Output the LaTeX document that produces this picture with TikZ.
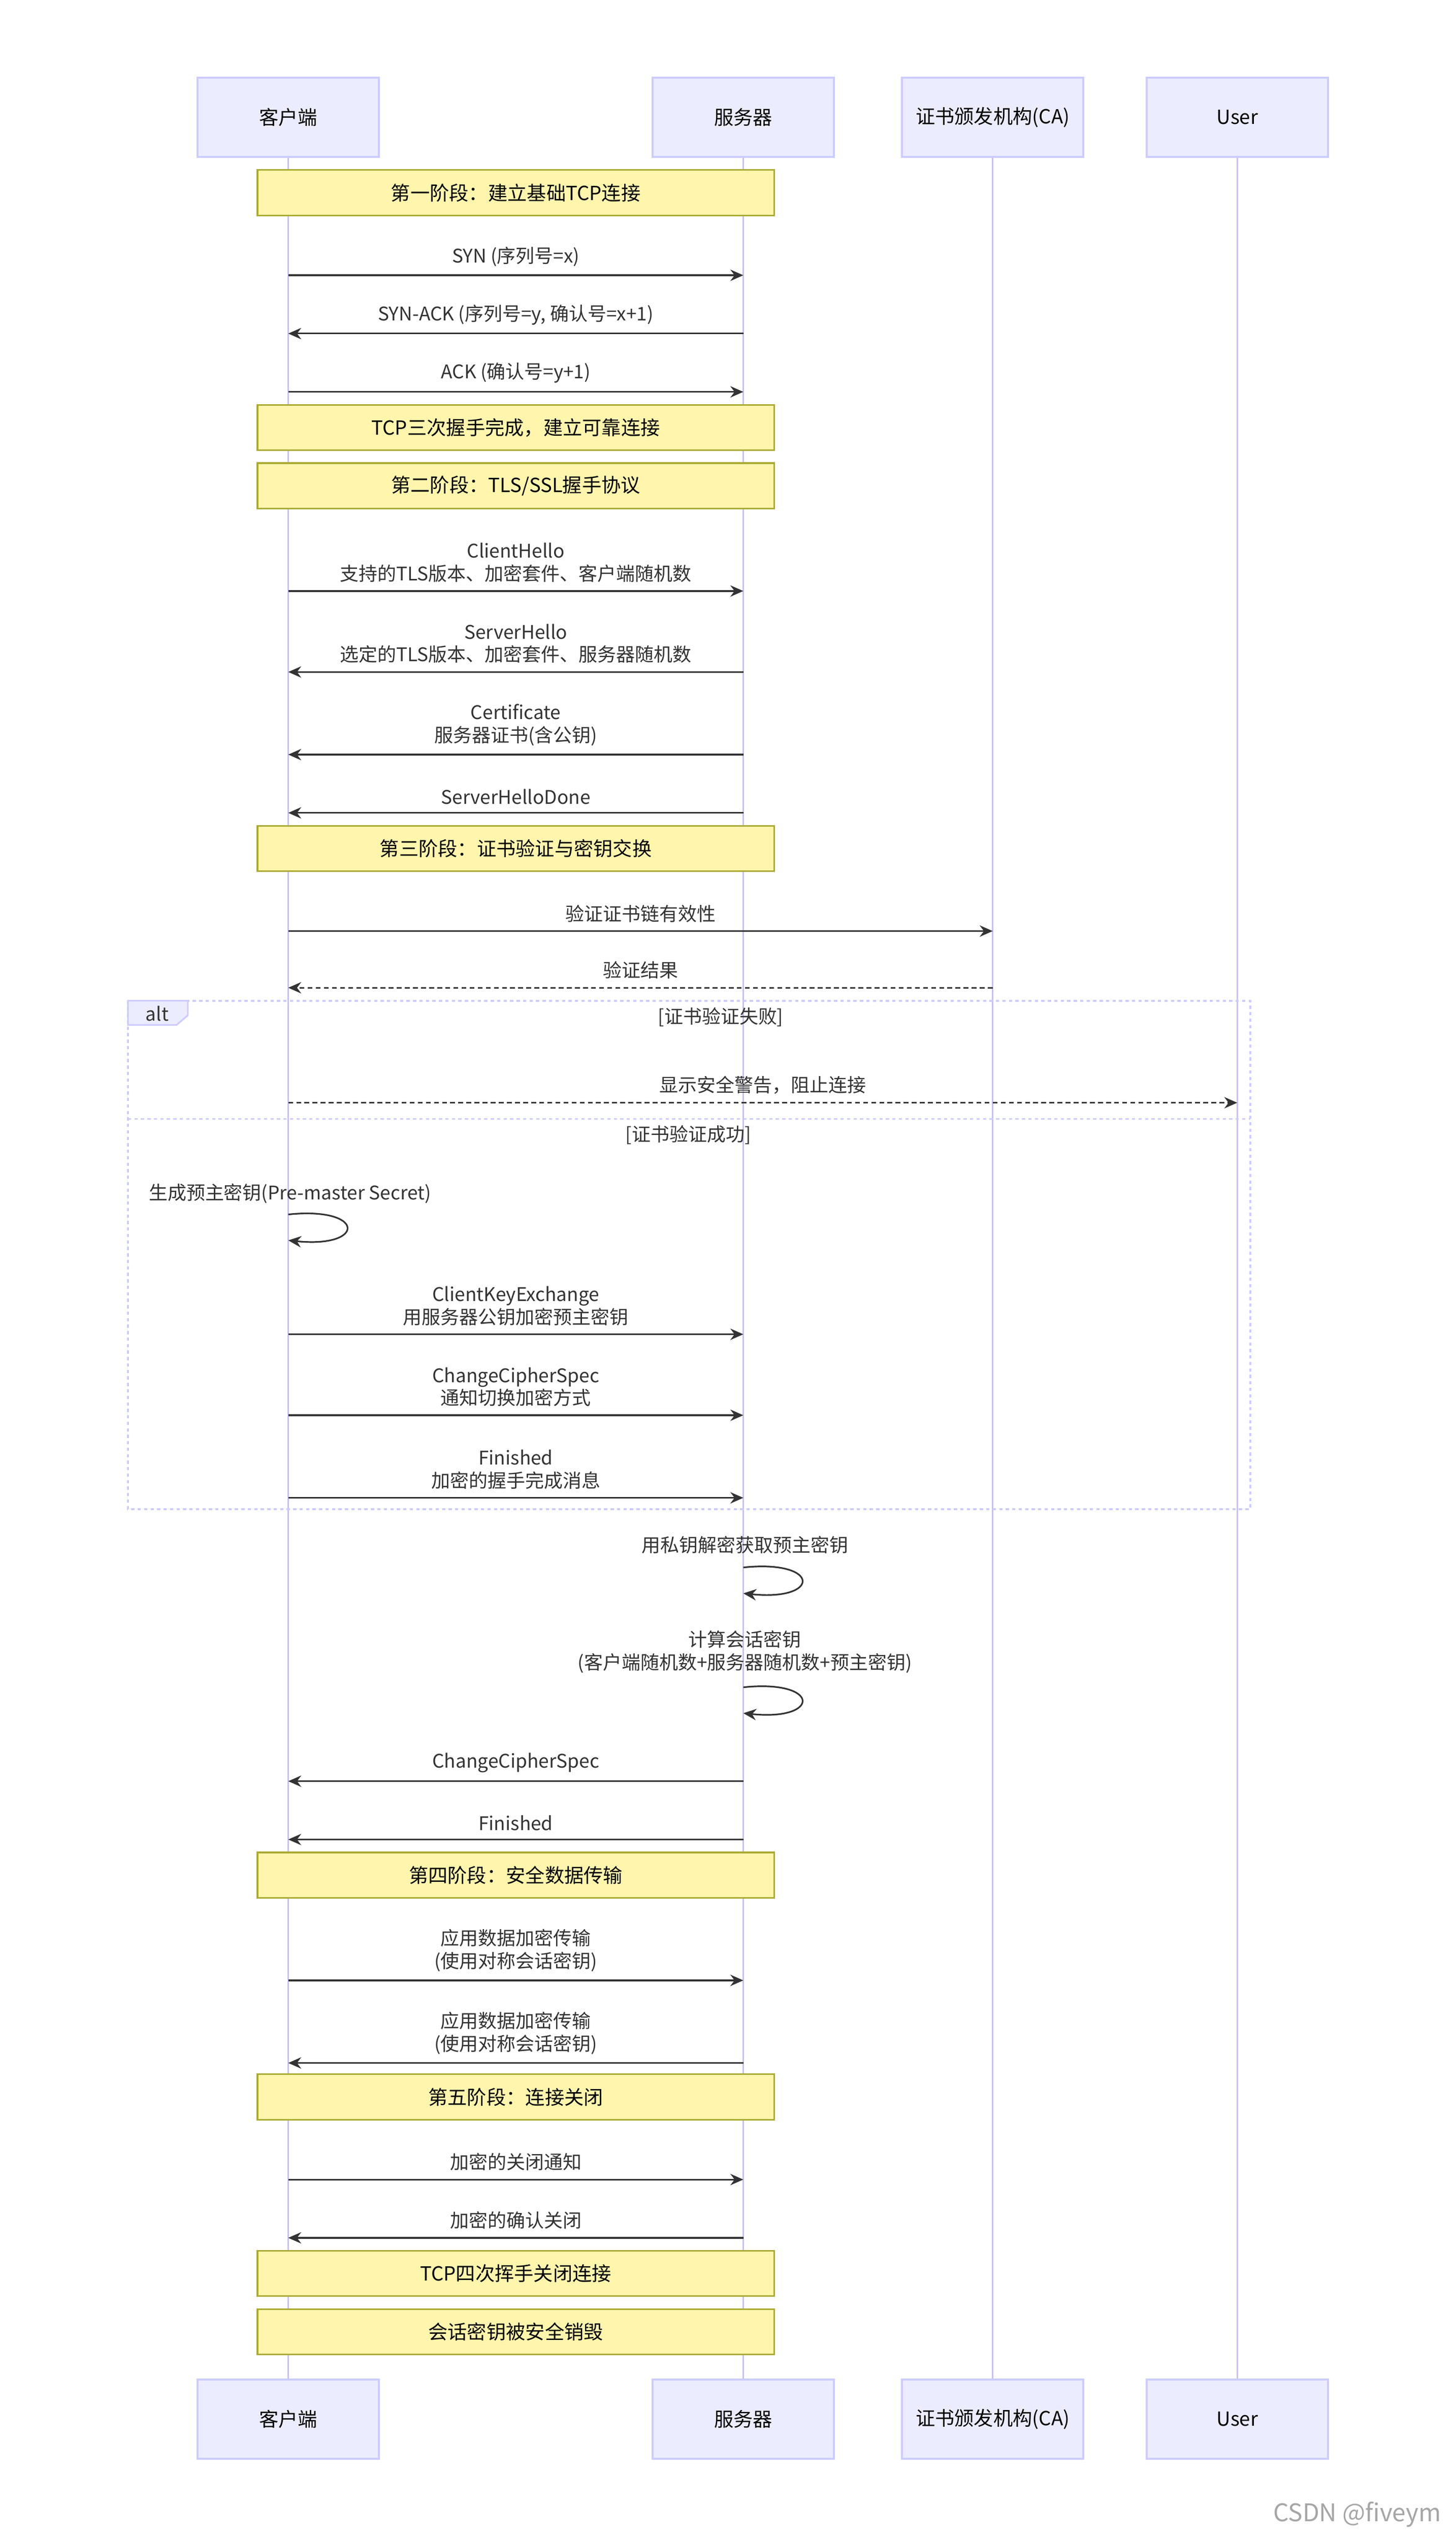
\documentclass[tikz,border=0pt]{standalone}
\usepackage{fontspec}
\setmainfont{Noto Sans CJK SC}
\usetikzlibrary{arrows.meta}
\definecolor{actfill}{HTML}{ECECFF}
\definecolor{actline}{HTML}{CCCCFF}
\definecolor{notefill}{HTML}{FFF5AD}
\definecolor{noteline}{HTML}{AAAA33}
\definecolor{life}{HTML}{C8C0EE}
\definecolor{ink}{HTML}{333333}
\newcommand{\mymsg}[6]{% name, x1, x2, yarrow, style, label
  \coordinate (#1s) at (#2,#4); \coordinate (#1e) at (#3,#4);
  \draw[msg,#5] (#1s) -- (#1e);
  \node[lbl,anchor=south] (#1l) at ($(#1s)!0.5!(#1e)+(0,-3)$) {#6};}
\usetikzlibrary{calc}
\begin{document}
\begin{tikzpicture}[x=0.5pt,y=-0.5pt,
  actor/.style={draw=actline,fill=actfill,line width=0.6pt,minimum width=56pt,minimum height=24.5pt,inner sep=0pt,font=\fontsize{6}{7}\selectfont,text=black},
  note/.style={draw=noteline,fill=notefill,line width=0.5pt,minimum width=159.5pt,minimum height=14pt,inner sep=0pt,font=\fontsize{6}{7}\selectfont},
  lbl/.style={font=\fontsize{5.8}{7}\selectfont,text=ink,align=center,inner sep=1pt},
  msg/.style={draw=ink,line width=0.5pt,-{Stealth[length=4pt,width=3.5pt]}},
  dsh/.style={dash pattern=on 1.5pt off 1pt},
  lifeln/.style={draw=life,line width=0.5pt}]
\useasboundingbox (0,0) rectangle (899,1568);
\fill[white] (0,0) rectangle (899,1568);
% lifelines
\foreach \n/\x in {c/178,s/459,a/613,u/764}{
  \coordinate (\n top) at (\x,97); \coordinate (\n bot) at (\x,1470);
  \draw[lifeln] (\n top) -- (\n bot);}
% actors
\node[actor] (c1) at (178,72.5) {客户端};
\node[actor] (s1) at (459,72.5) {服务器};
\node[actor] (a1) at (613,72.5) {证书颁发机构(CA)};
\node[actor] (u1) at (764,72.5) {User};
\node[actor] (c2) at (178,1494) {客户端};
\node[actor] (s2) at (459,1494) {服务器};
\node[actor] (a2) at (613,1494) {证书颁发机构(CA)};
\node[actor] (u2) at (764,1494) {User};
% notes
\node[note] (n1) at (318.5,119) {第一阶段：建立基础TCP连接};
\node[note] (n2) at (318.5,264) {TCP三次握手完成，建立可靠连接};
\node[note] (n3) at (318.5,300) {第二阶段：TLS/SSL握手协议};
\node[note] (n4) at (318.5,524) {第三阶段：证书验证与密钥交换};
\node[note] (n5) at (318.5,1158) {第四阶段：安全数据传输};
\node[note] (n6) at (318.5,1295) {第五阶段：连接关闭};
\node[note] (n7) at (318.5,1404) {TCP四次挥手关闭连接};
\node[note] (n8) at (318.5,1440) {会话密钥被安全销毁};
% messages
\mymsg{m1}{178}{459}{170}{}{SYN (序列号=x)}
\mymsg{m2}{459}{178}{206}{}{SYN-ACK (序列号=y, 确认号=x+1)}
\mymsg{m3}{178}{459}{242}{}{ACK (确认号=y+1)}
\mymsg{m4}{178}{459}{365}{}{ClientHello\\支持的TLS版本、加密套件、客户端随机数}
\mymsg{m5}{459}{178}{415}{}{ServerHello\\选定的TLS版本、加密套件、服务器随机数}
\mymsg{m6}{459}{178}{466}{}{Certificate\\服务器证书(含公钥)}
\mymsg{m7}{459}{178}{502}{}{ServerHelloDone}
\mymsg{m8}{178}{613}{575}{}{验证证书链有效性}
\mymsg{m9}{613}{178}{610}{dsh}{验证结果}
% alt box
\coordinate (alt1) at (79,618); \coordinate (alt2) at (772,932);
\draw[draw=actline,line width=0.6pt,dash pattern=on 1pt off 1pt] (alt1) rectangle (alt2);
\coordinate (sep1) at (79,691); \coordinate (sep2) at (772,691);
\draw[draw=actline,line width=0.6pt,dash pattern=on 1pt off 1pt] (sep1) -- (sep2);
\draw[draw=actline,fill=actfill,line width=0.5pt] (79,618) -- (116,618) -- (116,627) -- (109,633) -- (79,633) -- cycle;
\node[lbl] (altl) at (97,626) {alt};
\node[lbl] (g1) at (445,628) {[证书验证失败]};
\node[lbl] (g2) at (425,701) {[证书验证成功]};
\mymsg{m10}{178}{764}{681}{dsh}{显示安全警告，阻止连接}
% self loop 1
\coordinate (l1a) at (178,750); \coordinate (l1b) at (178,766);
\draw[msg] (l1a) .. controls (226,745) and (226,771) .. (l1b);
\node[lbl] (l1l) at (179,737) {生成预主密钥(Pre-master Secret)};
\mymsg{m11}{178}{459}{824}{}{ClientKeyExchange\\用服务器公钥加密预主密钥}
\mymsg{m12}{178}{459}{874}{}{ChangeCipherSpec\\通知切换加密方式}
\mymsg{m13}{178}{459}{925}{}{Finished\\加密的握手完成消息}
\coordinate (l2a) at (459,968); \coordinate (l2b) at (459,984);
\draw[msg] (l2a) .. controls (507,963) and (507,989) .. (l2b);
\node[lbl] (l2l) at (460,954) {用私钥解密获取预主密钥};
\coordinate (l3a) at (459,1042); \coordinate (l3b) at (459,1058);
\draw[msg] (l3a) .. controls (507,1037) and (507,1063) .. (l3b);
\node[lbl] (l3l) at (460,1020) {计算会话密钥\\(客户端随机数+服务器随机数+预主密钥)};
\mymsg{m14}{459}{178}{1100}{}{ChangeCipherSpec}
\mymsg{m15}{459}{178}{1136}{}{Finished}
\mymsg{m16}{178}{459}{1223}{}{应用数据加密传输\\(使用对称会话密钥)}
\mymsg{m17}{459}{178}{1274}{}{应用数据加密传输\\(使用对称会话密钥)}
\mymsg{m18}{178}{459}{1346}{}{加密的关闭通知}
\mymsg{m19}{459}{178}{1382}{}{加密的确认关闭}
\node[font=\fontsize{7.5}{8}\selectfont,text=black!35,anchor=east] (wm) at (897,1553) {CSDN @fiveym};
\end{tikzpicture}
\end{document}
